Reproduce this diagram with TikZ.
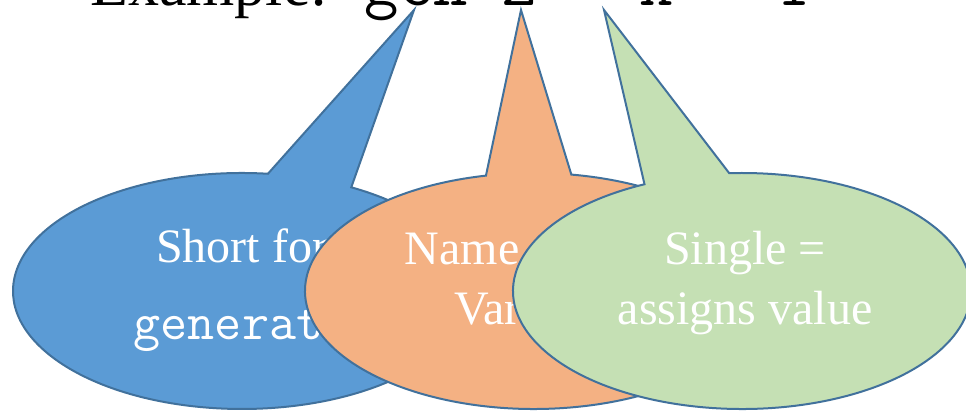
\documentclass[tikz,border=0pt]{standalone}
\usepackage{fontspec}
\setmainfont{Liberation Serif}
\usetikzlibrary{shapes.callouts}

\definecolor{calloutblue}{HTML}{5B9BD5}
\definecolor{calloutorange}{HTML}{F4B183}
\definecolor{calloutgreen}{HTML}{C5E0B4}
\definecolor{calloutedge}{HTML}{41719C}

\tikzset{
  bubble/.style={ellipse callout, draw=calloutedge, line width=2pt,
    minimum width=458pt, minimum height=236pt, inner sep=0pt},
  bubbletext/.style={anchor=base, inner sep=0pt, text=white,
    font=\fontsize{48}{56}\selectfont},
  bubblecode/.style={anchor=base, inner sep=0pt, text=white,
    font=\fontsize{52.6}{60}\selectfont\ttfamily},
  headline/.style={anchor=base west, inner sep=0pt,
    font=\fontsize{62}{70}\selectfont},
  headcode/.style={anchor=base west, inner sep=0pt,
    font=\fontsize{66.7}{74}\selectfont\ttfamily}
}

\begin{document}
\begin{tikzpicture}[x=1pt, y=1pt]
\useasboundingbox (0,0) rectangle (966,411);
\clip (0,0) rectangle (966,411);

% the statement being explained
\node[headline] (title) at (90,405.5) {Example:};
\node[headcode] (code) at (364.5,405.5) {gen z = x + 1};

% where each pointer ends
\coordinate (bluetip) at (414,401);
\coordinate (orangetip) at (521,401);
\coordinate (greentip) at (604,401);

% callouts, back to front
\node[bubble, fill=calloutblue, callout pointer arc=22,
      callout absolute pointer={(bluetip)}] (blue) at (242,120) {};
\node[bubbletext] (bluea) at (242,148) {Short for};
\node[bubblecode] (blueb) at (242,71) {generate};

\node[bubble, fill=calloutorange, callout pointer arc=21.5,
      callout absolute pointer={(orangetip)}] (orange) at (534,120) {};
\node[bubbletext] (orangea) at (534,146) {Name of new};
\node[bubbletext] (orangeb) at (534,86) {Variable};

\node[bubble, fill=calloutgreen, callout pointer arc=22,
      callout absolute pointer={(greentip)}] (green) at (742,120) {};
\node[bubbletext] (greena) at (745,146) {Single =};
\node[bubbletext] (greenb) at (745,86) {assigns value};
\end{tikzpicture}
\end{document}
